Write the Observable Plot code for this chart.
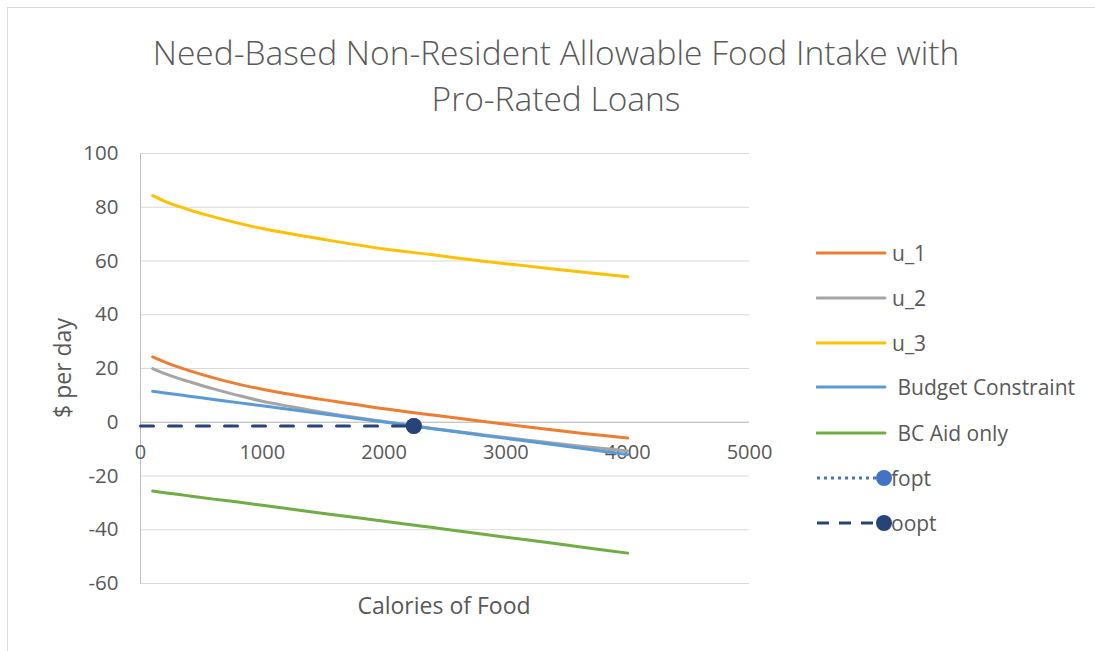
<!DOCTYPE html>
<html>
<head>
<meta charset="utf-8">
<script src="https://cdn.jsdelivr.net/npm/d3@7"></script>
<script src="https://cdn.jsdelivr.net/npm/@observablehq/plot@0.6"></script>
<style>
  html, body { margin: 0; padding: 0; background: #fff; }
  #wrap { position: relative; width: 1095px; height: 651px; overflow: hidden; font-family: "Open Sans", sans-serif; color: #595959; }
  #frame { position: absolute; left: 7px; top: 7px; width: 1200px; height: 800px; border-left: 1px solid #d9d9d9; border-top: 1px solid #d9d9d9; }
  #title { position: absolute; left: 0; width: 1112px; top: 29px; text-align: center; font-size: 33.5px; font-weight: 300; line-height: 46px; }
  #chart { position: absolute; left: 0; top: 0; }
  #ylabel { position: absolute; left: 62px; top: 368px; transform: translate(-50%, -50%) rotate(-90deg); font-size: 23px; white-space: nowrap; }
  #xlabel { position: absolute; left: 444px; top: 605px; transform: translate(-50%, -50%); font-size: 23px; white-space: nowrap; }
  #legend { position: absolute; left: 816px; top: 0; }
  .item { position: absolute; left: 0; height: 30px; display: flex; align-items: center; white-space: nowrap; font-size: 21px; }
  .item svg { display: block; }
</style>
</head>
<body>
<div id="wrap">
  <div id="frame"></div>
  <div id="title">Need-Based Non-Resident Allowable Food Intake with<br>Pro-Rated Loans</div>
  <div id="chart"></div>
  <div id="ylabel">$ per day</div>
  <div id="xlabel">Calories of Food</div>
  <div id="legend"></div>
</div>
<script>
// ---- data ----
const calories = [100, 200, 300, 400, 600, 800, 1000, 1200, 1600, 2000, 2400, 2800, 3200, 3600, 4000];
const u1 = [24.3, 22.4, 20.7, 19.2, 16.5, 14.2, 12.3, 10.6, 7.7, 5.0, 2.7, 0.4, -1.9, -4.0, -5.9];
const u2 = [20.0, 18.1, 16.5, 15.1, 12.4, 10.0, 7.8, 6.1, 2.9, 0.3, -2.3, -4.6, -6.8, -8.8, -10.7];
const u3 = [84.3, 82.2, 80.5, 79.0, 76.4, 74.1, 72.1, 70.4, 67.3, 64.5, 62.3, 60.0, 58.0, 56.0, 54.1];
const budget = [11.5, 10.9, 10.3, 9.7, 8.5, 7.3, 6.1, 4.9, 2.5, 0.1, -2.4, -4.8, -7.2, -9.6, -12.0];
const bcAid = [-25.6, -26.2, -26.8, -27.4, -28.6, -29.7, -30.9, -32.1, -34.5, -36.8, -39.2, -41.6, -43.9, -46.3, -48.7];
const foptX = [2244];
const foptY = [-1.4];
const ooptX = [0, 2244];
const ooptY = [-1.4, -1.4];
const xTicks = [0, 1000, 2000, 3000, 4000, 5000];
const yTicks = [-60, -40, -20, 0, 20, 40, 60, 80, 100];

const seriesNames = ["u_1", "u_2", "u_3", "Budget Constraint", "BC Aid only", "fopt", "oopt"];
const seriesColors = ["#ED7D31", "#A5A5A5", "#FFC000", "#5B9BD5", "#70AD47", "#4472C4", "#264478"];

// ---- build tables ----
const curveSeries = [u1, u2, u3, budget, bcAid];
const curves = curveSeries.map((vals, i) => calories.map((c, j) => ({x: c, y: vals[j], color: seriesColors[i]})));
const oopt = ooptX.map((x, i) => ({x, y: ooptY[i]}));
const fopt = foptX.map((x, i) => ({x, y: foptY[i]}));

const lineMarks = curves.map(data => Plot.line(data, {
  x: "x", y: "y", stroke: d => d.color, strokeWidth: 3, curve: "monotone-x",
  strokeLinecap: "round", strokeLinejoin: "round"
}));

const chart = Plot.plot({
  width: 800,
  height: 651,
  marginLeft: 140,
  marginRight: 51,
  marginTop: 153,
  marginBottom: 68,
  style: {fontFamily: "Open Sans, sans-serif", fontSize: "20px", color: "#595959", background: "transparent", overflow: "visible"},
  x: {domain: [0, 5000], axis: null},
  y: {domain: [-60, 100], axis: null},
  color: {type: "identity"},
  marks: [
    Plot.gridY(yTicks, {stroke: "#d9d9d9", strokeOpacity: 1, strokeWidth: 1}),
    Plot.ruleY([0], {stroke: "#bfbfbf", strokeWidth: 1}),
    Plot.ruleX([0], {stroke: "#bfbfbf", strokeWidth: 1}),
    Plot.axisY(yTicks, {tickSize: 0, tickPadding: 22, fontSize: 20.5, fill: "#595959", label: null, tickFormat: d => String(d)}),
    Plot.text(xTicks, {x: d => d, y: 0, dy: 30, text: d => String(d), fontSize: 20, fill: "#595959"}),
    ...lineMarks,
    Plot.line(oopt, {x: "x", y: "y", stroke: seriesColors[6], strokeWidth: 3, strokeDasharray: "13,15"}),
    Plot.dot(fopt, {x: "x", y: "y", r: 8, fill: seriesColors[5]}),
    Plot.dot(oopt.slice(1), {x: "x", y: "y", r: 8, fill: seriesColors[6]})
  ]
});
document.getElementById("chart").appendChild(chart);

// ---- legend ----
const legend = document.getElementById("legend");
const legendY = [253, 298, 343, 387, 433, 478, 523];
seriesNames.forEach((name, i) => {
  const item = document.createElement("div");
  item.className = "item";
  item.style.top = (legendY[i] - 15) + "px";
  let sym;
  if (i < 5) {
    sym = `<svg width="76" height="30"><line x1="1" y1="15" x2="69" y2="15" stroke="${seriesColors[i]}" stroke-width="3" stroke-linecap="round"/></svg>`;
  } else if (i === 5) {
    sym = `<svg width="76" height="30"><line x1="1" y1="15" x2="62" y2="15" stroke="${seriesColors[i]}" stroke-width="3" stroke-dasharray="3,4"/><circle cx="68" cy="15" r="8" fill="${seriesColors[i]}"/></svg>`;
  } else {
    sym = `<svg width="76" height="30"><line x1="1" y1="15" x2="62" y2="15" stroke="${seriesColors[i]}" stroke-width="3" stroke-dasharray="12,10"/><circle cx="68" cy="15" r="8" fill="${seriesColors[i]}"/></svg>`;
  }
  const label = (i === 3 || i === 4) ? "&nbsp;" + name : name;
  item.innerHTML = sym + `<span style="margin-left:${i>=5?-1:0}px">${label}</span>`;
  legend.appendChild(item);
});
</script>
</body>
</html>
